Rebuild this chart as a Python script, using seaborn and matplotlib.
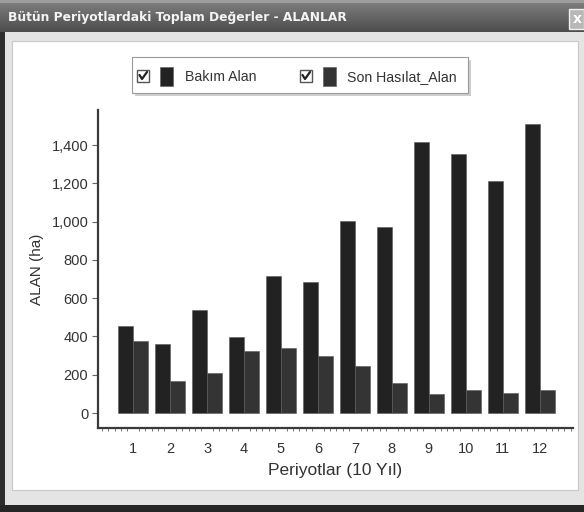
import numpy as np
import pandas as pd
import matplotlib
matplotlib.use("Agg")
import matplotlib.pyplot as plt
from matplotlib.patches import Rectangle
from matplotlib.lines import Line2D
from matplotlib.ticker import FuncFormatter, MultipleLocator
import seaborn as sns

# Period numbers and the two area series (ha)
periods = ["1", "2", "3", "4", "5", "6", "7", "8", "9", "10", "11", "12"]
bakim_alan = [454, 360, 538, 399, 717, 686, 1005, 973, 1416, 1353, 1214, 1510]
son_hasilat_alan = [378, 169, 207, 326, 338, 299, 246, 158, 98, 120, 106, 120]
series_names = ["Bakım Alan", "Son Hasılat_Alan"]
series_colors = ["#222222", "#343434"]

title_text = "Bütün Periyotlardaki Toplam Değerler - ALANLAR"
y_label = "ALAN (ha)"
x_label = "Periyotlar (10 Yıl)"
y_ticks = [0, 200, 400, 600, 800, 1000, 1200, 1400]

df = pd.DataFrame({
    "Periyot": periods * 2,
    "Alan": bakim_alan + son_hasilat_alan,
    "Seri": [series_names[0]] * len(periods) + [series_names[1]] * len(periods),
})

sns.set_theme(style="white")
plt.rcParams["font.family"] = ["Liberation Sans", "DejaVu Sans"]

W, H = 584, 512
fig = plt.figure(figsize=(W / 100, H / 100), dpi=100)
fig.patch.set_facecolor("#e4e4e4")


def box(x, y, w, h, **kw):
    """Rectangle in pixel coordinates measured from the top-left corner."""
    r = Rectangle((x / W, 1 - (y + h) / H), w / W, h / H,
                  transform=fig.transFigure, **kw)
    fig.patches.append(r)
    return r


def ftext(x, y, s, **kw):
    fig.text(x / W, 1 - y / H, s, **kw)


# window frame
box(0, 0, W, H, facecolor="#e4e4e4", edgecolor="none", zorder=0)
box(0, 0, 5, H, facecolor="#2e2e2e", edgecolor="none", zorder=1)
box(0, 505, W, 7, facecolor="#262626", edgecolor="none", zorder=1)
# title bar with a soft vertical gradient
grad = np.linspace(0, 1, 32)
for i, g in enumerate(grad):
    c = 0.50 - 0.2 * g if i > 2 else 0.62
    box(0, i, W, 1, facecolor=(c, c, c), edgecolor="none", zorder=1)
ftext(8, 17, title_text, color="#f4f4f4", fontsize=8.8, fontweight="bold",
      family=["DejaVu Sans"], va="center", ha="left", zorder=3)
# close button
box(569, 9, 15, 20, facecolor="#b8b8b8", edgecolor="#f0f0f0", linewidth=1, zorder=2)
ftext(577, 19, "x", color="white", fontsize=10, fontweight="bold",
      family=["DejaVu Sans"], va="center", ha="center", zorder=3)
# white chart panel
box(12, 41, 566, 449, facecolor="white", edgecolor="#c8c8c8", linewidth=0.8, zorder=1)

# plotting area
ax = fig.add_axes([98 / W, 1 - 428 / H, (573 - 98) / W, (428 - 110) / H])
ax.set_facecolor("none")
ax.set_zorder(5)
sns.barplot(data=df, x="Periyot", y="Alan", hue="Seri", palette=series_colors,
            width=0.8, dodge=True, saturation=1, legend=False,
            edgecolor="#5a5a5a", linewidth=0.4, ax=ax)

ax.set_xlim(-0.95, 11.9)
ax.set_ylim(-78, 1583)
ax.set_yticks(y_ticks)
ax.yaxis.set_major_formatter(FuncFormatter(lambda v, p: f"{int(v):,}"))
ax.xaxis.set_minor_locator(MultipleLocator(1 / 6))

for side in ("top", "right"):
    ax.spines[side].set_visible(False)
for side in ("left", "bottom"):
    ax.spines[side].set_color("#3a3a3a")
    ax.spines[side].set_linewidth(1.6)

ax.tick_params(axis="both", which="major", direction="out", length=4, width=0.8,
               color="#666666", labelcolor="#333333", labelsize=10.5, pad=3)
ax.tick_params(axis="x", which="minor", direction="out", length=2.5, width=0.7,
               color="#777777", bottom=True)
ax.tick_params(axis="x", which="major", length=5, pad=5)
ax.tick_params(axis="y", which="both", left=True)
ax.set_xlabel(x_label, fontsize=12.5, color="#333333", labelpad=5)
ax.set_ylabel(y_label, fontsize=11, color="#333333", labelpad=5)
ax.grid(False)

# legend box with check boxes
box(135, 60, 336, 36, facecolor="#cfcfcf", edgecolor="none", zorder=6)
box(132, 57, 336, 36, facecolor="white", edgecolor="#9a9a9a", linewidth=0.8, zorder=7)
entries = [(137, 160, 185), (300, 323, 347)]
for (cbx, px, tx), name, col in zip(entries, series_names, series_colors):
    box(cbx, 70, 12, 12, facecolor="white", edgecolor="#555555", linewidth=1.0, zorder=8)
    fig.lines.append(Line2D([(cbx + 2.5) / W, (cbx + 5) / W, (cbx + 10) / W],
                            [1 - 75 / H, 1 - 79 / H, 1 - 72 / H],
                            transform=fig.transFigure, color="#222222",
                            linewidth=1.6, zorder=9))
    box(px, 67, 13, 19, facecolor=col, edgecolor="#666666", linewidth=0.5, zorder=8)
    ftext(tx, 77, name, fontsize=10.2, color="#333333", va="center", ha="left", zorder=9)

fig.savefig("out.png", dpi=100, facecolor=fig.get_facecolor())
